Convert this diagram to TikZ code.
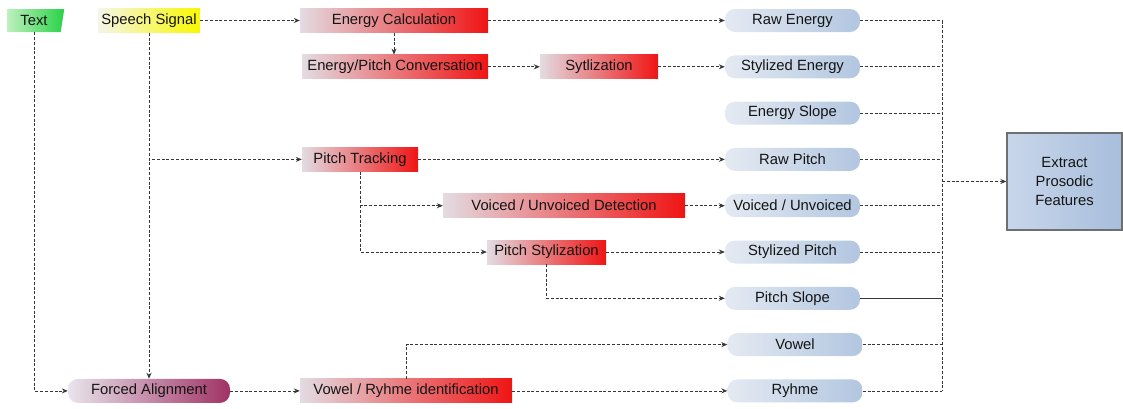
\documentclass[tikz,border=0pt]{standalone}
\usepackage{fontspec}
\setmainfont{Liberation Sans}
\usetikzlibrary{arrows.meta,shapes.geometric}
\definecolor{txtc}{RGB}{20,20,20}
\definecolor{linec}{RGB}{55,55,55}
\definecolor{rl}{RGB}{226,220,226}
\definecolor{rm}{RGB}{240,150,160}
\definecolor{rr}{RGB}{240,20,20}
\definecolor{fl}{RGB}{228,234,242}
\definecolor{fr}{RGB}{178,198,224}
\definecolor{gl}{RGB}{190,240,190}
\definecolor{gr}{RGB}{40,210,70}
\definecolor{yl}{RGB}{245,245,235}
\definecolor{yr}{RGB}{248,248,0}
\definecolor{pl}{RGB}{232,228,236}
\definecolor{pm}{RGB}{200,140,170}
\definecolor{pr}{RGB}{160,50,100}
\definecolor{el}{RGB}{200,214,234}
\definecolor{er}{RGB}{168,190,220}
\definecolor{eb}{RGB}{110,110,115}
\begin{document}
\begin{tikzpicture}[x=1pt,y=-1pt,
  every node/.style={font=\fontsize{14.8}{17}\selectfont, text=txtc, inner sep=0pt},
  redbox/.style={minimum height=24pt, left color=rl, middle color=rm, right color=rr},
  feat/.style={minimum width=135pt, minimum height=23pt, rounded corners=10pt, left color=fl, right color=fr},
  conn/.style={draw=linec, line width=0.8pt, dash pattern=on 3pt off 1.8pt, -{Stealth[length=6pt,width=5pt,inset=2pt]}},
  link/.style={draw=linec, line width=0.8pt, dash pattern=on 3pt off 1.8pt},
  solidlink/.style={draw=linec, line width=0.9pt},
]
\useasboundingbox (0,0) rectangle (1123,408);
% left inputs
\node[shape=trapezium, trapezium left angle=90, trapezium right angle=100, trapezium stretches=true,
      minimum width=57pt, minimum height=23pt, left color=gl, right color=gr] (txt) at (34,20.5) {Text};
\node[minimum width=102pt, minimum height=24pt, left color=yl, right color=yr] (ss) at (149,20.5) {Speech Signal};
% processing boxes
\node[redbox, minimum width=188pt] (ec) at (394,20.5) {Energy Calculation};
\node[redbox, minimum width=186pt] (epc) at (395,66.8) {Energy/Pitch Conversation};
\node[redbox, minimum width=118pt] (syt) at (599,66.8) {Sytlization};
\node[redbox, minimum width=116pt] (pt) at (360,159.4) {Pitch Tracking};
\node[redbox, minimum width=242pt] (vud) at (564,205.7) {Voiced / Unvoiced Detection};
\node[redbox, minimum width=119pt] (ps) at (546.5,252) {Pitch Stylization};
\node[minimum width=162pt, minimum height=24pt, rounded corners=10pt, left color=pl, middle color=pm, right color=pr] (fa) at (149,390.9) {Forced Alignment};
\node[redbox, minimum width=212pt] (vri) at (406,390.9) {Vowel / Ryhme identification};
% features
\node[feat] (re) at (792.5,20.5) {Raw Energy};
\node[feat] (se) at (792.5,66.8) {Stylized Energy};
\node[feat] (es) at (792.5,113.1) {Energy Slope};
\node[feat] (rp) at (792.5,159.4) {Raw Pitch};
\node[feat] (vu) at (792.5,205.7) {Voiced / Unvoiced};
\node[feat] (sp) at (792.5,252) {Stylized Pitch};
\node[feat] (psl) at (792.5,298.3) {Pitch Slope};
\node[feat] (vw) at (795,344.6) {Vowel};
\node[feat] (ry) at (795,390.9) {Ryhme};
% output
\node[minimum width=115pt, minimum height=97pt, left color=el, right color=er, draw=eb, line width=1.3pt,
      align=center, font=\fontsize{14.8}{19}\selectfont] (ext) at (1064.5,181.5) {Extract\\Prosodic\\Features};
% connectors
\draw[conn] (ss.east) -- (ec.west);
\draw[conn] (ec.south) -- (ec.south |- epc.north);
\draw[conn] (ec.east) -- (re.west);
\draw[conn] (epc.east) -- (syt.west);
\draw[conn] (syt.east) -- (se.west);
\draw[conn] (ss.south) -- (fa.north);
\draw[conn] (ss.south) |- (pt.west);
\draw[conn] (txt.south) |- (fa.west);
\draw[conn] (pt.east) -- (rp.west);
\draw[conn] (pt.south) |- (vud.west);
\draw[conn] (pt.south) |- (ps.west);
\draw[conn] (vud.east) -- (vu.west);
\draw[conn] (ps.east) -- (sp.west);
\draw[conn] (ps.south) |- (psl.west);
\draw[conn] (fa.east) -- (vri.west);
\draw[conn] (vri.east) -- (ry.west);
\draw[conn] (vri.north) |- (vw.west);
% bus
\coordinate (bt) at (942,20.5);
\coordinate (bb) at (942,390.9);
\coordinate (bm) at (942,181.5);
\draw[link] (bt) -- (bb);
\draw[link] (re.east) -- (re.east -| bt);
\draw[link] (se.east) -- (se.east -| bt);
\draw[link] (es.east) -- (es.east -| bt);
\draw[link] (rp.east) -- (rp.east -| bt);
\draw[link] (vu.east) -- (vu.east -| bt);
\draw[link] (sp.east) -- (sp.east -| bt);
\draw[solidlink] (psl.east) -- (psl.east -| bt);
\draw[link] (vw.east) -- (vw.east -| bt);
\draw[link] (ry.east) -- (ry.east -| bt);
\draw[conn] (bm) -- (ext.west);
\end{tikzpicture}
\end{document}
